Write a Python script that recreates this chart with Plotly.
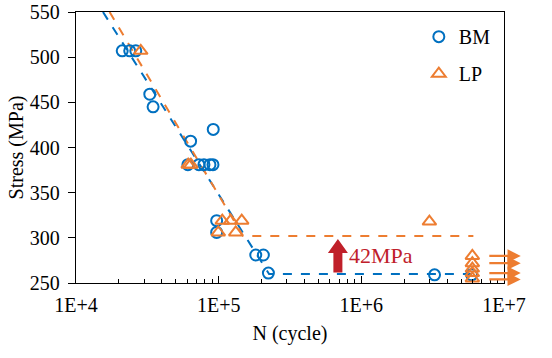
import math
import plotly.graph_objects as go

# ---------------- data ----------------
BM_N = [21090, 23800, 26240, 32900, 34700, 63570, 91620, 60850, 72690, 78830,
        86860, 91200, 96800, 96800, 181970, 205800, 223200, 3.26e6, 5.93e6]
BM_S = [507, 507, 507, 459, 445, 407, 420, 381, 381, 381,
        381, 381, 319, 306, 281, 281, 261, 259, 259]

LP_N = [28440, 61140, 63880, 106000, 121500, 145100, 99400, 131700, 3.0e6,
        6.0e6, 6.0e6, 6.0e6, 6.0e6, 6.0e6]
LP_S = [507, 381, 381, 319, 319, 319, 306, 306, 318,
        280, 272, 266, 261, 255]

BM_FIT_N = [15460, 225700, 6.5e6]
BM_FIT_S = [550, 260, 260]
LP_FIT_N = [17200, 148300, 6.1e6]
LP_FIT_S = [550, 302, 302]

RUNOUT_S = [280, 272, 261, 254]
RUNOUT_N_START = 7.7e6
RUNOUT_N_END = 1.31e7

ARROW_N = 6.85e5
ARROW_S = 261.5
LABEL_N = 7.95e5
LABEL_S = 281
LABEL_TEXT = "42MPa"

X_TICKS = [1e4, 1e5, 1e6, 1e7]
X_TICK_TEXT = ["1E+4", "1E+5", "1E+6", "1E+7"]
Y_TICKS = [250, 300, 350, 400, 450, 500, 550]
X_LOG_RANGE = [4, 7]

BLUE = "#0070C0"
ORANGE = "#ED7D31"
RED = "#C0202A"
FONT = "Liberation Serif, Times New Roman, Times, serif"

fig = go.Figure()

fig.add_trace(go.Scatter(x=BM_FIT_N, y=BM_FIT_S, mode="lines",
                         line=dict(color=BLUE, width=2, dash="dash"),
                         showlegend=False, hoverinfo="skip"))
fig.add_trace(go.Scatter(x=LP_FIT_N, y=LP_FIT_S, mode="lines",
                         line=dict(color=ORANGE, width=2, dash="dash"),
                         showlegend=False, hoverinfo="skip"))

fig.add_trace(go.Scatter(x=BM_N, y=BM_S, mode="markers", name="BM",
                         legendgroup="bm",
                         marker=dict(symbol="circle-open", size=11,
                                     line=dict(color=BLUE, width=2), color=BLUE)))
fig.add_trace(go.Scatter(x=LP_N, y=LP_S, mode="markers", name="LP",
                         legendgroup="lp",
                         marker=dict(symbol="triangle-up-open", size=12,
                                     line=dict(color=ORANGE, width=2), color=ORANGE)))

# run-out arrows
for s in RUNOUT_S:
    fig.add_annotation(x=math.log10(RUNOUT_N_END), y=s, ax=math.log10(RUNOUT_N_START), ay=s,
                       xref="x", yref="y", axref="x", ayref="y",
                       showarrow=True, arrowhead=2, arrowsize=1.2, arrowwidth=2.2,
                       arrowcolor=ORANGE, text="")

# block arrow (42 MPa increase)
arrow_frac = (math.log10(ARROW_N) - X_LOG_RANGE[0]) / (X_LOG_RANGE[1] - X_LOG_RANGE[0])
fig.add_shape(type="path", xref="paper", yref="y", xsizemode="pixel", ysizemode="pixel",
              xanchor=arrow_frac, yanchor=ARROW_S,
              path="M -4.5 0 L 4.5 0 L 4.5 19.5 L 10 19.5 L 0 33.5 L -10 19.5 L -4.5 19.5 Z",
              fillcolor=RED, line=dict(width=0), layer="above")
fig.add_annotation(x=math.log10(LABEL_N), y=LABEL_S, xref="x", yref="y",
                   text=LABEL_TEXT, showarrow=False, xanchor="left", yanchor="middle",
                   font=dict(family=FONT, size=22, color=RED))

fig.update_layout(
    width=552, height=358,
    margin=dict(l=76, r=48, t=12, b=75),
    paper_bgcolor="white", plot_bgcolor="white",
    font=dict(family=FONT, size=20, color="black"),
    legend=dict(x=0.801, y=0.981, xanchor="left", yanchor="top",
                bgcolor="rgba(0,0,0,0)", tracegroupgap=8,
                font=dict(family=FONT, size=20)),
)

fig.update_xaxes(type="log", range=X_LOG_RANGE, automargin=False,
                 tickmode="array", tickvals=X_TICKS, ticktext=X_TICK_TEXT,
                 ticks="inside", ticklen=7, tickcolor="black",
                 minor=dict(ticks="inside", ticklen=4, tickcolor="black",
                            tickmode="array",
                            tickvals=[k * 10 ** e for e in (4, 5, 6) for k in range(2, 10)]),
                 showline=True, linecolor="black", linewidth=1.3, mirror=True,
                 showgrid=False, zeroline=False,
                 ticklabelstandoff=4,
                 title=dict(text="N (cycle)", standoff=10, font=dict(family=FONT, size=20)))

fig.update_yaxes(range=[250, 550], tickvals=Y_TICKS, automargin=False,
                 ticks="outside", ticklen=7, tickcolor="black",
                 showline=True, linecolor="black", linewidth=1.3, mirror=True,
                 showgrid=False, zeroline=False,
                 ticklabelstandoff=4,
                 title=dict(text="Stress (MPa)", standoff=0, font=dict(family=FONT, size=20)))

fig.write_html("out.html", config={"displayModeBar": False},
               post_script="document.body.style.margin='0';")
